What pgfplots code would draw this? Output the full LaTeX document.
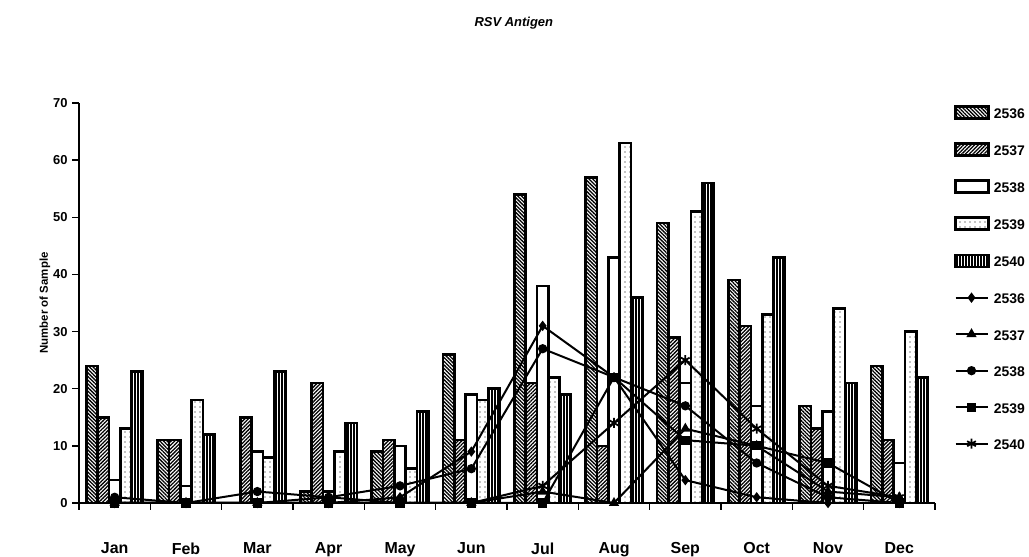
\documentclass[border=0pt]{standalone}
\usepackage{fontspec}
\setmainfont{Liberation Sans}
\usepackage{pgfplots}
\usepackage{pgfplotstable}
\pgfplotsset{compat=1.18}
\usetikzlibrary{patterns,patterns.meta}

\pgfplotstableread{
x b2536 b2537 b2538 b2539 b2540
0 24 15 4 13 23
1 11 11 3 18 12
2 0 15 9 8 23
3 2 21 2 9 14
4 9 11 10 6 16
5 26 11 19 18 20
6 54 21 38 22 19
7 57 10 43 63 36
8 49 29 21 51 56
9 39 31 17 33 43
10 17 13 16 34 21
11 24 11 7 30 22
}\bars

\pgfplotstableread{
x l2536 l2537 l2538 l2539 l2540
0 0 0 1 0 0
1 0 0 0 0 0
2 0 0 2 0 0
3 0 1 1 0 0
4 1 0 3 0 0
5 9 0 6 0 0
6 31 2 27 0 3
7 22 0 22 22 14
8 4 13 17 11 25
9 1 10 7 10 13
10 0 2 1 7 3
11 0 1 0 0 1
}\lines

\pgfplotsset{
  barleg/.style={legend image code/.code={\draw[##1, line width=2.6bp] (0bp,-6bp) rectangle (33bp,6bp);}},
  lineleg/.style={legend image code/.code={\draw[##1, mark repeat=2, mark phase=2] plot coordinates {(0bp,0bp) (16bp,0bp) (32bp,0bp)};}},
  bstyle/.style={ybar, bar width=11.3bp, draw=black, line width=2.6bp, barleg},
  lstyle/.style={black, line width=2bp, mark options={solid, fill=black}, lineleg},
}

\begin{document}
\begin{tikzpicture}[x=1bp,y=1bp]
\useasboundingbox (0,0) rectangle (1029,557);
\begin{axis}[
  at={(79bp,54bp)}, anchor=south west,
  scale only axis, width=856bp, height=400bp,
  xmin=-0.5, xmax=11.5, ymin=0, ymax=70,
  clip=false,
  axis lines=left,
  axis line style={-, line width=1.8bp},
  tick style={black, line width=1.5bp},
  tick align=outside,
  major tick length=7bp,
  ytick={0,10,...,70},
  xtick={-0.5,0.5,...,11.5},
  xticklabels={},
  extra x ticks={0,1,...,11},
  extra x tick labels={Jan,Feb,Mar,Apr,May,Jun,Jul,Aug,Sep,Oct,Nov,Dec},
  extra x tick style={major tick length=0pt},
  /pgf/number format/assume math mode=true,
  yticklabel style={font=\fontsize{13}{13}\selectfont\bfseries, xshift=-1bp},
  xticklabel style={font=\fontsize{16}{16}\selectfont\bfseries, yshift=-36bp},
  ylabel={Number of Sample},
  ylabel style={at={(axis description cs:0,0.5)}, anchor=center, yshift=34bp, font=\fontsize{11.5}{11.5}\selectfont\bfseries},
  title={RSV Antigen},
  title style={at={(axis description cs:0.508,1)}, anchor=center, yshift=74bp, font=\fontsize{13}{13}\selectfont\bfseries\itshape},
  legend style={at={(axis description cs:1,1)}, anchor=north west, xshift=16bp, yshift=0bp, draw=none, fill=none,
    font=\fontsize{14}{14}\selectfont\bfseries, row sep=22.5bp,
    nodes={inner sep=1bp, text height=12bp, text depth=0bp},
    /tikz/every odd column/.append style={column sep=3bp}},
  legend cell align=left,
]
\addplot[bstyle, bar shift=-22.6bp, pattern={Lines[angle=-45,distance=2.6bp,line width=1.3bp]}] table[x=x,y=b2536]{\bars};
\addplot[bstyle, bar shift=-11.3bp, pattern={Lines[angle=45,distance=2.6bp,line width=1.3bp]}] table[x=x,y=b2537]{\bars};
\addplot[bstyle, bar shift=0bp, fill=white] table[x=x,y=b2538]{\bars};
\addplot[bstyle, bar shift=11.3bp, pattern={Dots[distance=5bp,radius=0.7bp]}] table[x=x,y=b2539]{\bars};
\addplot[bstyle, bar shift=22.6bp, pattern={Lines[angle=90,distance=3bp,line width=1.1bp]}] table[x=x,y=b2540]{\bars};
\addplot[lstyle, mark=diamond*, mark size=3.6bp] table[x=x,y=l2536]{\lines};
\addplot[lstyle, mark=triangle*, mark size=4bp] table[x=x,y=l2537]{\lines};
\addplot[lstyle, mark=*, mark size=3.6bp] table[x=x,y=l2538]{\lines};
\addplot[lstyle, mark=square*, mark size=3.6bp] table[x=x,y=l2539]{\lines};
\addplot[lstyle, mark=asterisk, mark size=5bp, mark options={line width=1.8bp}] table[x=x,y=l2540]{\lines};
\legend{2536,2537,2538,2539,2540,2536,2537,2538,2539,2540}
\end{axis}
\end{tikzpicture}
\end{document}
